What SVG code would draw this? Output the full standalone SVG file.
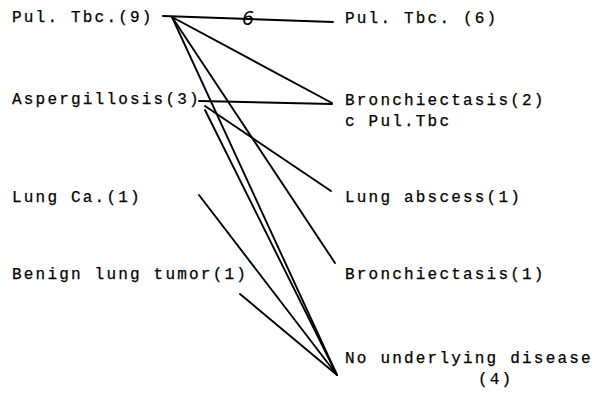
<svg xmlns="http://www.w3.org/2000/svg" width="607" height="393" viewBox="0 0 607 393">
<style>
.t{font-family:"Liberation Mono","DejaVu Sans Mono",monospace;font-size:16px;letter-spacing:2.2px;fill:#000;stroke:#000;stroke-width:0.25}
.c line{stroke:#000;stroke-width:1.9;stroke-linecap:round}
.h{font-family:"DejaVu Sans",sans-serif;font-style:italic;font-size:19px;fill:#000}
</style>
<rect width="607" height="393" fill="#fff"/>
<g id="left-pultbc"><text class="t" x="12" y="22">Pul. Tbc.(9)</text></g>
<g id="left-asp"><text class="t" x="12" y="104">Aspergillosis(3)</text></g>
<g id="left-lungca"><text class="t" x="12" y="202">Lung Ca.(1)</text></g>
<g id="left-benign"><text class="t" x="12" y="279">Benign lung tumor(1)</text></g>
<g id="right-pultbc"><text class="t" x="345" y="23">Pul. Tbc. (6)</text></g>
<g id="right-bronch2"><text class="t" x="345" y="105">Bronchiectasis(2)</text><text class="t" x="345" y="126">c Pul.Tbc</text></g>
<g id="right-abscess"><text class="t" x="345" y="202">Lung abscess(1)</text></g>
<g id="right-bronch1"><text class="t" x="345" y="279">Bronchiectasis(1)</text></g>
<g id="right-none"><text class="t" x="345" y="363">No underlying disease</text><text class="t" x="478" y="384">(4)</text></g>
<g id="connectors" class="c">
<line x1="163" y1="16" x2="333" y2="22"/>
<text class="h" x="242" y="25">6</text>
<line x1="172" y1="17" x2="332" y2="103"/>
<line x1="172" y1="17" x2="335" y2="263"/>
<line x1="172" y1="17" x2="337" y2="375"/>
<line x1="199" y1="101" x2="332" y2="104"/>
<line x1="205" y1="106" x2="331" y2="191"/>
<line x1="205" y1="110" x2="337" y2="375"/>
<line x1="199" y1="195" x2="337" y2="375"/>
<line x1="240" y1="294" x2="337" y2="375"/>
</g>
</svg>
